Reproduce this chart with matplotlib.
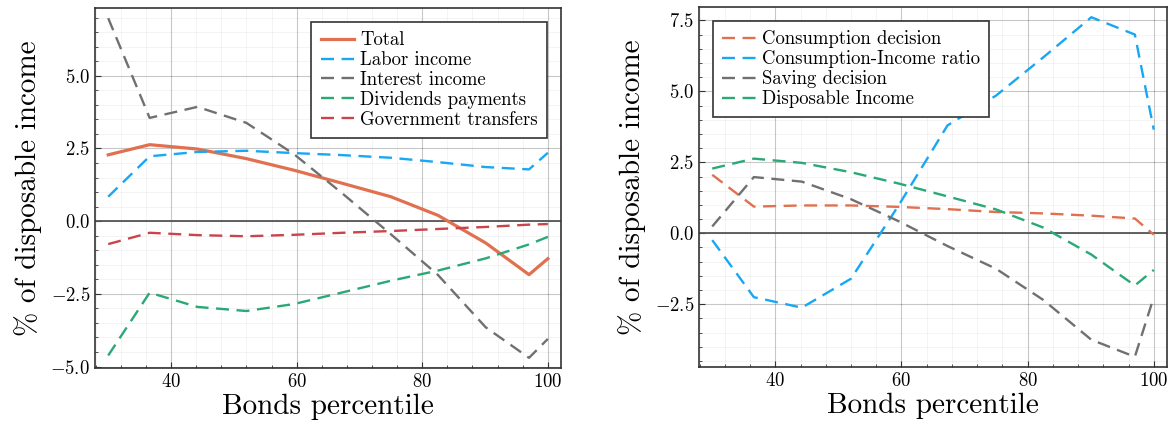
import matplotlib
matplotlib.use("Agg")
import matplotlib.pyplot as plt
from matplotlib.ticker import MultipleLocator, FuncFormatter

plt.rcParams["font.family"] = ["cmr10", "DejaVu Serif"]
plt.rcParams["mathtext.fontset"] = "cm"
plt.rcParams["axes.formatter.use_mathtext"] = True

# bond holdings percentiles
percentile = [30, 36.6, 44.2, 52.0, 59.6, 67.3, 75.0, 82.5, 90.1, 97.0, 100]

# income components (% of disposable income)
total = [2.28, 2.63, 2.48, 2.15, 1.75, 1.30, 0.84, 0.20, -0.75, -1.84, -1.29]
labor = [0.84, 2.23, 2.38, 2.42, 2.34, 2.27, 2.18, 2.03, 1.86, 1.78, 2.35]
interest = [6.98, 3.55, 3.93, 3.38, 2.30, 0.95, -0.45, -1.85, -3.65, -4.70, -4.05]
dividends = [-4.62, -2.46, -2.95, -3.09, -2.85, -2.45, -2.05, -1.70, -1.28, -0.80, -0.54]
transfers = [-0.79, -0.40, -0.48, -0.52, -0.47, -0.40, -0.34, -0.27, -0.20, -0.12, -0.10]

# consumption side
cons_decision = [2.06, 0.94, 0.98, 0.98, 0.93, 0.85, 0.75, 0.70, 0.62, 0.52, -0.05]
cons_income_ratio = [-0.24, -2.25, -2.62, -1.60, 1.00, 3.80, 4.85, 6.20, 7.61, 7.00, 3.65]
saving_decision = [0.24, 1.98, 1.82, 1.20, 0.42, -0.45, -1.25, -2.35, -3.75, -4.35, -2.25]
disposable = total

ORANGE = "#E0704F"
BLUE = "#18A7F3"
GRAY = "#707070"
GREEN = "#2AA876"
RED = "#C9444B"
DASH = (0, (5.5, 3.2))


def style_axes(ax):
    ax.set_xlim(27.9, 102.1)
    ax.xaxis.set_major_locator(MultipleLocator(20))
    ax.xaxis.set_minor_locator(MultipleLocator(4))
    ax.yaxis.set_major_locator(MultipleLocator(2.5))
    ax.yaxis.set_minor_locator(MultipleLocator(0.5))
    ax.yaxis.set_major_formatter(FuncFormatter(lambda v, p: f"${v:.1f}$"))
    ax.xaxis.set_major_formatter(FuncFormatter(lambda v, p: f"${v:.0f}$"))
    ax.grid(which="major", color="black", alpha=0.22, lw=0.8)
    ax.grid(which="minor", color="black", alpha=0.05, lw=0.6)
    ax.tick_params(which="both", direction="in", top=False, right=False,
                   labelsize=13.5, color="#333333")
    ax.tick_params(which="major", length=4)
    ax.tick_params(which="minor", length=2)
    for s in ax.spines.values():
        s.set_color("#333333")
        s.set_linewidth(1.2)
    ax.axhline(0, color="#555555", lw=1.3, zorder=1.5)
    ax.set_xlabel("Bonds percentile", fontsize=21, labelpad=2)
    ax.set_ylabel("% of disposable income", fontsize=21, labelpad=6)
    ax.set_axisbelow(True)


def add_legend(ax, loc):
    leg = ax.legend(loc=loc, fontsize=13.5, frameon=True, fancybox=False,
                    edgecolor="#333333", framealpha=1, handlelength=1.8,
                    handletextpad=0.3, labelspacing=0.1, borderpad=0.5,
                    borderaxespad=0.75)
    leg.get_frame().set_linewidth(1.2)


fig = plt.figure(figsize=(11.73, 4.30), dpi=100)
ax1 = fig.add_axes([0.081, 0.1442, 0.3973, 0.8372])
ax2 = fig.add_axes([0.5959, 0.1465, 0.3990, 0.8372])

# left: decomposition of total income change
ax1.plot(percentile, total, color=ORANGE, lw=2.3, label="Total")
ax1.plot(percentile, labor, color=BLUE, lw=1.7, ls=DASH, label="Labor income")
ax1.plot(percentile, interest, color=GRAY, lw=1.7, ls=DASH, label="Interest income")
ax1.plot(percentile, dividends, color=GREEN, lw=1.7, ls=DASH, label="Dividends payments")
ax1.plot(percentile, transfers, color=RED, lw=1.7, ls=DASH, label="Government transfers")
style_axes(ax1)
ax1.set_ylim(-5.05, 7.33)
add_legend(ax1, "upper right")

# right: consumption and saving responses
ax2.plot(percentile, cons_decision, color=ORANGE, lw=1.7, ls=DASH, label="Consumption decision")
ax2.plot(percentile, cons_income_ratio, color=BLUE, lw=1.7, ls=DASH, label="Consumption-Income ratio")
ax2.plot(percentile, saving_decision, color=GRAY, lw=1.7, ls=DASH, label="Saving decision")
ax2.plot(percentile, disposable, color=GREEN, lw=1.7, ls=DASH, label="Disposable Income")
style_axes(ax2)
ax2.set_ylim(-4.71, 7.97)
add_legend(ax2, "upper left")

fig.savefig("out.png", dpi=100)
